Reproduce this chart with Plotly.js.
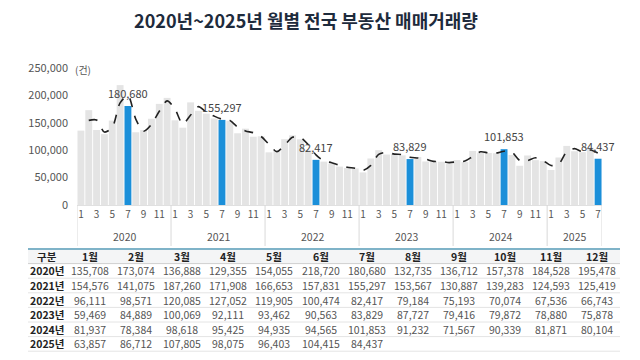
<!DOCTYPE html>
<html><head><meta charset="utf-8">
<script src="https://cdn.plot.ly/plotly-3.0.1.min.js"></script>
<style>html,body{margin:0;padding:0;background:#fff;}#chart{width:640px;height:360px;}</style>
</head><body><div id="chart"></div>
<script>
// ---- data ----
const years = ['2020', '2021', '2022', '2023', '2024', '2025'];
const monthLabels = ['1월','2월','3월','4월','5월','6월','7월','8월','9월','10월','11월','12월'];
const v2020 = [135708, 173074, 136888, 129355, 154055, 218720, 180680, 132735, 136712, 157378, 184528, 195478];
const v2021 = [154576, 141075, 187260, 171908, 166653, 157831, 155297, 153567, 130887, 139283, 124593, 125419];
const v2022 = [96111, 98571, 120085, 127052, 119905, 100474, 82417, 79184, 75193, 70074, 67536, 66743];
const v2023 = [59469, 84889, 100069, 92111, 93462, 90563, 83829, 87727, 79416, 79872, 78880, 75878];
const v2024 = [81937, 78384, 98618, 95425, 94935, 94565, 101853, 91232, 71567, 90339, 81871, 80104];
const v2025 = [63857, 86712, 107805, 98075, 96403, 104415, 84437];
const highlightMonth = 7;
const maPeriod = 2; // Excel-style moving-average trendline

const yearData = [v2020, v2021, v2022, v2023, v2024, v2025];

// ---- flatten ----
const xs = [], ys = [], colors = [], monthNum = [];
let idx = 0;
yearData.forEach((arr, yi) => {
  arr.forEach((v, mi) => {
    xs.push(idx); ys.push(v); monthNum.push(mi + 1);
    colors.push(mi + 1 === highlightMonth ? '#1b8fd9' : '#e4e4e4');
    idx++;
  });
});
const ma = ys.map((v, i) => {
  if (i < maPeriod - 1) return null;
  let s = 0; for (let k = 0; k < maPeriod; k++) s += ys[i - k];
  return s / maPeriod;
});

const tickvals = xs.filter((x, i) => monthNum[i] % 2 === 1);
const ticktext = tickvals.map(x => String(monthNum[x]));

const W = 640, H = 360;
const py = px => (H - px) / H;
const pxx = px => px / W;
const FONT = '"Noto Sans CJK KR", "Noto Sans", sans-serif';

const annotations = [];
const shapes = [];
// July labels
xs.forEach((x, i) => {
  if (monthNum[i] === highlightMonth) {
    annotations.push({x: x, y: ys[i], xref: 'x', yref: 'y', text: ys[i].toLocaleString('en-US'),
      showarrow: false, yanchor: 'bottom', yshift: 3, font: {family: FONT, size: 11, color: '#444'}});
  }
});
// year labels + dividers
let start = 0;
yearData.forEach((arr, yi) => {
  const s = start, e = start + arr.length - 1;
  annotations.push({x: (s + e) / 2, y: py(236), xref: 'x', yref: 'paper', text: years[yi], showarrow: false,
    yanchor: 'middle', font: {family: FONT, size: 10.5, color: '#555'}});
  shapes.push({type: 'line', xref: 'x', yref: 'paper', x0: s - 0.5, x1: s - 0.5, y0: py(246), y1: py(205),
    line: {color: '#d9d9d9', width: 1}});
  start += arr.length;
});
shapes.push({type: 'line', xref: 'x', yref: 'paper', x0: start - 0.5, x1: start - 0.5, y0: py(246), y1: py(205),
  line: {color: '#d9d9d9', width: 1}});
// unit
annotations.push({x: pxx(73), y: py(69), xref: 'paper', yref: 'paper', text: '(건)', showarrow: false,
  xanchor: 'left', yanchor: 'middle', font: {family: FONT, size: 10, color: '#555'}});

// ---- table (drawn with annotations) ----
const tTop = 249, rowH = 14.6, tLeft = 28, tRight = 620;
const col0X = 47, col1X = 90, colStep = 46.1;
shapes.push({type: 'rect', xref: 'paper', yref: 'paper', x0: pxx(tLeft), x1: pxx(tRight), y0: py(tTop + rowH), y1: py(tTop),
  fillcolor: '#f4f5f6', line: {width: 0}, layer: 'below'});
shapes.push({type: 'line', xref: 'paper', yref: 'paper', x0: pxx(tLeft), x1: pxx(tRight), y0: py(tTop), y1: py(tTop),
  line: {color: '#7fb3c8', width: 2}});
for (let r = 1; r <= years.length + 1; r++) {
  const yy = tTop + r * rowH;
  shapes.push({type: 'line', xref: 'paper', yref: 'paper', x0: pxx(tLeft), x1: pxx(tRight), y0: py(yy), y1: py(yy),
    line: {color: r === 1 ? '#cfcfcf' : '#e4e4e4', width: 1}});
}
const cellAnn = (cx, cy, text, bold, color) => annotations.push({x: pxx(cx), y: py(cy), xref: 'paper', yref: 'paper',
  text: bold ? '<b>' + text + '</b>' : text, showarrow: false, xanchor: 'center', yanchor: 'middle',
  font: {family: FONT, size: 10.5, color: color}});
const headerCy = tTop + rowH / 2;
cellAnn(col0X, headerCy, '구분', true, '#222');
monthLabels.forEach((m, mi) => cellAnn(col1X + mi * colStep, headerCy, m, true, '#222'));
years.forEach((y, yi) => {
  const cy = tTop + rowH * (yi + 1) + rowH / 2;
  cellAnn(col0X, cy, y + '년', true, '#222');
  yearData[yi].forEach((v, mi) => cellAnn(col1X + mi * colStep, cy, v.toLocaleString('en-US'), false, '#555'));
});

const traces = [
  {type: 'bar', x: xs, y: ys, marker: {color: colors}, hoverinfo: 'skip'},
  {type: 'scatter', mode: 'lines', x: xs, y: ma, line: {color: '#222', width: 1.6, dash: 'dash', shape: 'spline', smoothing: 0.8},
    hoverinfo: 'skip', connectgaps: false}
];

const layout = {
  width: W, height: H, margin: {l: 0, r: 0, t: 0, b: 0},
  paper_bgcolor: '#fff', plot_bgcolor: '#fff', showlegend: false, bargap: 0.12,
  title: {text: '<b>2020년~2025년 월별 전국 부동산 매매거래량</b>', x: pxx(306), xanchor: 'center', y: py(22), yanchor: 'middle',
    font: {family: FONT, size: 18, color: '#1e2b3c'}},
  xaxis: {domain: [pxx(77), pxx(602)], range: [-0.5, xs.length - 0.5], tickmode: 'array', tickvals: tickvals, ticktext: ticktext,
    showgrid: false, zeroline: false, showline: true, linecolor: '#e0e0e0', ticks: '',
    tickfont: {family: FONT, size: 10, color: '#555'}, fixedrange: true},
  yaxis: {domain: [py(205), py(68)], range: [0, 250000], dtick: 50000, tickformat: ',d', showgrid: false, zeroline: false,
    showline: false, ticks: '', ticklabelstandoff: 8, tickfont: {family: FONT, size: 11, color: '#555'}, fixedrange: true},
  annotations: annotations, shapes: shapes
};
Plotly.newPlot('chart', traces, layout, {displayModeBar: false, staticPlot: true});
</script></body></html>
